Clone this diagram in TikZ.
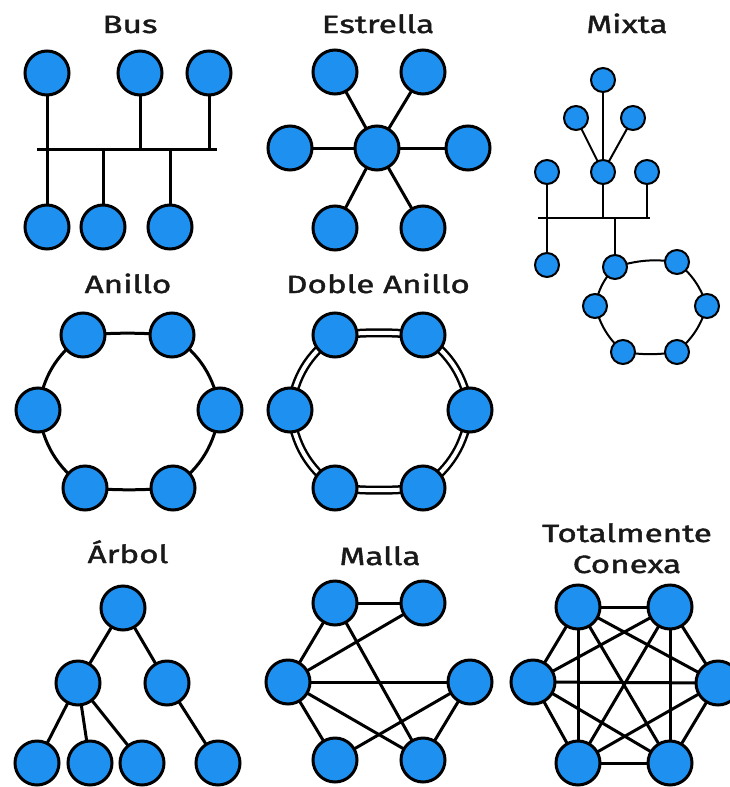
\documentclass[tikz,border=0pt]{standalone}
\usepackage{fontspec}
\setmainfont{Fira Sans}[FakeStretch=1.33,FakeBold=1.6]
\usetikzlibrary{backgrounds}
\definecolor{nodeblue}{RGB}{30,144,240}
\definecolor{ink}{RGB}{25,25,25}
\tikzset{
  big/.style={circle,draw=black,line width=3pt,fill=nodeblue,minimum size=44pt,inner sep=0pt},
  small/.style={circle,draw=black,line width=2pt,fill=nodeblue,minimum size=24pt,inner sep=0pt},
  wire/.style={draw=black,line width=3pt},
  thinwire/.style={draw=black,line width=2pt},
  dwire/.style={draw=black,line width=2.5pt,double=white,double distance=4pt},
  title/.style={anchor=base,text=ink,font=\fontsize{25}{27}\selectfont}
}
\begin{document}
\begin{tikzpicture}[x=1pt,y=-1pt]
\useasboundingbox (0,0) rectangle (729,787);
% ---------- titles
\node[title] (tbus) at (130,33) {Bus};
\node[title] (test) at (378,33) {Estrella};
\node[title] (tmix) at (627,33) {Mixta};
\node[title] (tani) at (128,293) {Anillo};
\node[title] (tdob) at (378,293) {Doble Anillo};
\node[title] (tarb) at (128,563) {Árbol};
\node[title] (tmal) at (380,565) {Malla};
\node[title] (ttot) at (627,542) {Totalmente};
\node[title] (tcon) at (627,573) {Conexa};

% ---------- Bus
\coordinate (busL) at (37,149);
\coordinate (busR) at (217,149);
\node[big] (b1) at (47,73) {};
\node[big] (b2) at (140,73) {};
\node[big] (b3) at (209,73) {};
\node[big] (b4) at (47,227) {};
\node[big] (b5) at (103,227) {};
\node[big] (b6) at (170,227) {};
\coordinate (bt1) at (47,149);
\coordinate (bt2) at (140,149);
\coordinate (bt3) at (209,149);
\coordinate (bt4) at (47,149);
\coordinate (bt5) at (103,149);
\coordinate (bt6) at (170,149);
\begin{scope}[on background layer]
\draw[wire] (busL) -- (busR);
\foreach \i in {1,...,6} \draw[wire] (b\i.center) -- (bt\i);
\end{scope}

% ---------- Estrella
\node[big] (ec) at (377,148) {};
\node[big] (e1) at (335,72) {};
\node[big] (e2) at (423,72) {};
\node[big] (e3) at (290,148) {};
\node[big] (e4) at (468,148) {};
\node[big] (e5) at (335,228) {};
\node[big] (e6) at (423,228) {};
\begin{scope}[on background layer]
\foreach \i in {1,...,6} \draw[wire] (ec.center) -- (e\i.center);
\end{scope}

% ---------- Mixta
\node[small] (m1) at (603,80) {};
\node[small] (m2) at (576,118) {};
\node[small] (m3) at (633,118) {};
\node[small] (m4) at (547,172) {};
\node[small] (m5) at (603,172) {};
\node[small] (m6) at (647,172) {};
\node[small] (m7) at (547,265) {};
\node[small] (r1) at (615,267) {};
\node[small] (r2) at (677,262) {};
\node[small] (r3) at (707,306) {};
\node[small] (r4) at (677,352) {};
\node[small] (r5) at (623,352) {};
\node[small] (r6) at (595,306) {};
\coordinate (mbL) at (538,218);
\coordinate (mbR) at (650,218);
\coordinate (mt5) at (603,218);
\coordinate (mt6) at (647,218);
\coordinate (mtr) at (615,218);
\begin{scope}[on background layer]
\draw[thinwire] (mbL) -- (mbR);
\draw[thinwire] (m1.center) -- (m5.center);
\draw[thinwire] (m2.center) -- (m5.center);
\draw[thinwire] (m3.center) -- (m5.center);
\draw[thinwire] (m4.center) -- (m7.center);
\draw[thinwire] (m5.center) -- (mt5);
\draw[thinwire] (m6.center) -- (mt6);
\draw[thinwire] (r1.center) -- (mtr);
\draw[thinwire] (r1.center) to[bend left=12] (r2.center)
  to[bend left=15] (r3.center) to[bend left=15] (r4.center)
  to[bend left=8] (r5.center) to[bend left=15] (r6.center)
  to[bend left=15] (r1.center);
\end{scope}

% ---------- Anillo
\node[big] (a1) at (83,335) {};
\node[big] (a2) at (172,335) {};
\node[big] (a3) at (220,410) {};
\node[big] (a4) at (173,488) {};
\node[big] (a5) at (85,488) {};
\node[big] (a6) at (38,410) {};
\begin{scope}[on background layer]
\draw[wire] (a1.center) to[bend left=4] (a2.center) to[bend left=22] (a3.center)
  to[bend left=22] (a4.center) to[bend left=4] (a5.center) to[bend left=22] (a6.center)
  to[bend left=22] (a1.center);
\end{scope}

% ---------- Doble Anillo
\node[big] (d1) at (335,335) {};
\node[big] (d2) at (423,335) {};
\node[big] (d3) at (470,410) {};
\node[big] (d4) at (423,488) {};
\node[big] (d5) at (335,488) {};
\node[big] (d6) at (290,410) {};
\begin{scope}[on background layer]
\draw[dwire] (d1.center) to[bend left=5] (d2.center) to[bend left=22] (d3.center)
  to[bend left=22] (d4.center) to[bend left=5] (d5.center) to[bend left=22] (d6.center)
  to[bend left=22] cycle;
\end{scope}

% ---------- Arbol
\node[big] (t0) at (123,608) {};
\node[big] (t1) at (78,683) {};
\node[big] (t2) at (167,683) {};
\node[big] (t3) at (37,763) {};
\node[big] (t4) at (90,763) {};
\node[big] (t5) at (142,763) {};
\node[big] (t6) at (218,763) {};
\begin{scope}[on background layer]
\draw[wire] (t0.center) -- (t1.center);
\draw[wire] (t0.center) -- (t2.center);
\draw[wire] (t1.center) -- (t3.center);
\draw[wire] (t1.center) -- (t4.center);
\draw[wire] (t1.center) -- (t5.center);
\draw[wire] (t2.center) -- (t6.center);
\end{scope}

% ---------- Malla
\node[big] (ma) at (335,603) {};
\node[big] (mb) at (423,603) {};
\node[big] (mc) at (288,682) {};
\node[big] (md) at (470,682) {};
\node[big] (me) at (335,760) {};
\node[big] (mf) at (423,760) {};
\begin{scope}[on background layer]
\draw[wire] (ma.center) -- (mb.center);
\draw[wire] (ma.center) -- (mc.center);
\draw[wire] (ma.center) -- (mf.center);
\draw[wire] (mc.center) -- (mb.center);
\draw[wire] (mc.center) -- (md.center);
\draw[wire] (mc.center) -- (me.center);
\draw[wire] (mc.center) -- (mf.center);
\draw[wire] (me.center) -- (md.center);
\draw[wire] (md.center) -- (mf.center);
\end{scope}

% ---------- Totalmente Conexa
\node[big] (k1) at (578,607) {};
\node[big] (k2) at (670,607) {};
\node[big] (k3) at (533,682) {};
\node[big] (k4) at (718,683) {};
\node[big] (k5) at (578,763) {};
\node[big] (k6) at (670,763) {};
\begin{scope}[on background layer]
\foreach \i/\j in {1/2,1/3,1/4,1/5,1/6,2/3,2/4,2/5,2/6,3/4,3/5,3/6,4/5,4/6,5/6}
  \draw[wire] (k\i.center) -- (k\j.center);
\end{scope}
\end{tikzpicture}
\end{document}
